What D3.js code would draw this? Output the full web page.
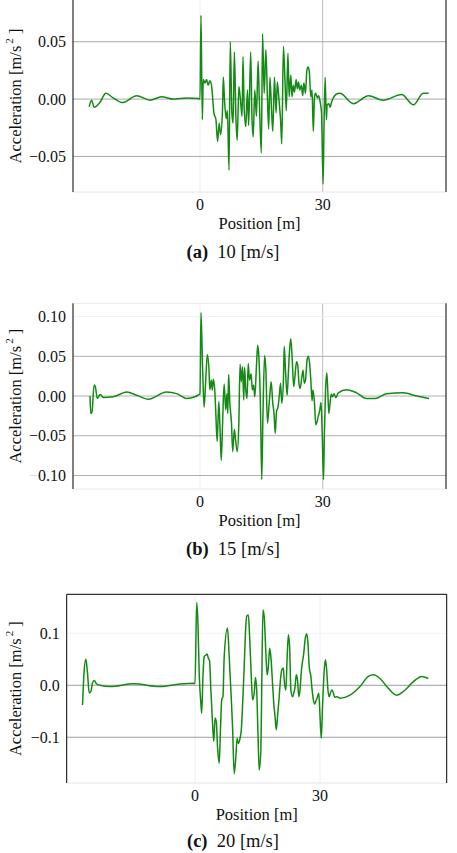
<!DOCTYPE html>
<meta charset="utf-8">
<head>
<style>
body { margin: 0; background: #fff; }
svg text { font-family: "Liberation Serif", "Times New Roman", "DejaVu Serif", serif; }
.line { fill: none; stroke: #138a13; stroke-width: 1.5px; stroke-linejoin: round; }
.tick { font-size: 16px; fill: #111; }
.lab { font-size: 16.5px; fill: #111; }
.cap { font-size: 18.5px; fill: #111; white-space: pre; }
</style>
</head>
<body>
<svg width="457" height="853"></svg>
<script src="https://cdn.jsdelivr.net/npm/d3@7"></script>
<script>
// (a) 10 m/s
var posA = [
  -27.1, -26.5, -25.9, -24.5, -23.0, -21.2, -18.9, -15.5, -12.2, -9.4,
  -6.5, -3.3, -0.4, 0, 0.24, 0.57, 0.8, 1.2, 1.6, 2.0,
  2.4, 2.85, 3.4, 3.9, 4.3, 4.7, 5.05, 5.5, 5.7, 6.0,
  6.4, 6.7, 7.1, 7.4, 7.8, 8.1, 8.4, 8.8, 9.1, 9.5,
  9.9, 10.3, 10.5, 10.8, 11.2, 11.6, 11.9, 12.4, 12.7, 13.0,
  13.4, 13.8, 14.2, 14.5, 15.0, 15.3, 15.7, 16.1, 16.5, 16.8,
  17.1, 17.5, 17.8, 18.2, 18.6, 18.9, 19.3, 19.7, 20.0, 20.4,
  20.8, 21.1, 21.5, 21.8, 22.2, 22.5, 22.8, 23.1, 23.5, 23.8,
  24.1, 24.4, 24.8, 25.1, 25.4, 25.8, 26.1, 26.4, 26.7, 27.1,
  27.4, 27.7, 28.0, 28.3, 28.7, 29.0, 29.3, 29.7, 30.1, 30.3,
  30.6, 30.9, 31.1, 31.5, 31.8, 32.2, 32.6, 33.2, 34.2, 37.5,
  41.2, 44.8, 49.3, 52.2, 54.6, 55.9
];
var accA = [
  -0.0067, -0.001, -0.007, -0.003, 0.005, 0.001, -0.003, 0.003, -0.001, 0.002,
  0, 0.001, 0.0005, 0, 0.073, -0.018, 0.017, 0.014, 0.017, 0.012,
  0.016, 0.011, -0.012, -0.018, -0.037, -0.021, -0.031, -0.010, 0.019, -0.001,
  -0.017, -0.010, -0.062, 0.050, -0.012, -0.021, 0.041, -0.018, -0.036, 0.011,
  -0.001, -0.015, 0.037, -0.007, -0.024, 0.008, -0.023, 0.041, -0.015, -0.033,
  0.008, -0.015, 0.033, 0, -0.047, 0.057, 0.005, 0.043, 0, -0.026,
  0.019, -0.010, -0.028, 0.019, -0.012, 0.015, 0, -0.018, -0.039, 0.046,
  0.014, -0.010, 0.040, 0.002, 0.021, 0.002, 0.012, 0.006, 0.017, 0.009,
  0.015, 0.008, 0.012, 0.003, 0.014, 0.005, 0.024, 0.028, 0.025, 0.002,
  0.008, -0.028, 0.002, 0.005, 0.001, 0.003, -0.001, -0.011, -0.074, -0.029,
  0.019, -0.018, -0.005, -0.004, -0.007, -0.002, 0.001, 0.004, 0.005, -0.004,
  0.003, -0.001, 0.004, -0.005, 0.005, 0.005
];

// (b) 15 m/s
var posB = [
  -26.9, -26.7, -26.4, -25.9, -25.6, -25.1, -24.4, -23.6, -21.2, -17.9,
  -15.5, -12.6, -8.2, -5.7, -3.3, -1.2, -0.2, 0, 0.24, 0.65,
  1.0, 1.4, 1.8, 2.2, 2.4, 2.8, 3.0, 3.3, 3.7, 3.9,
  4.2, 4.6, 4.9, 5.2, 5.5, 5.9, 6.3, 6.6, 6.8, 7.0,
  7.3, 7.7, 8.0, 8.4, 8.7, 9.1, 9.5, 9.8, 10.1, 10.4,
  10.7, 10.9, 11.2, 11.5, 11.8, 12.1, 12.5, 12.8, 13.1, 13.4,
  13.8, 14.1, 14.4, 14.8, 15.1, 15.4, 15.8, 16.1, 16.5, 16.8,
  17.1, 17.4, 17.8, 18.1, 18.4, 18.7, 19.1, 19.4, 19.7, 20.0,
  20.4, 20.6, 20.9, 21.3, 21.6, 21.9, 22.2, 22.6, 22.9, 23.2,
  23.6, 23.9, 24.2, 24.5, 24.9, 25.2, 25.5, 25.8, 26.2, 26.5,
  26.8, 27.1, 27.4, 27.6, 28.0, 28.3, 28.6, 28.9, 29.3, 29.6,
  29.9, 30.2, 30.4, 30.7, 31.0, 31.2, 31.5, 31.8, 32.1, 32.4,
  32.8, 33.2, 33.8, 35.9, 38.3, 40.7, 42.8, 45.6, 49.7, 53.0,
  56.0
];
var accB = [
  0, -0.022, -0.020, 0.014, 0.012, -0.003, 0.002, -0.002, -0.001, 0.005,
  0.001, -0.004, 0.005, 0.003, -0.003, -0.001, 0.002, 0.0025, 0.105, 0.033,
  -0.014, 0.020, 0.052, 0.033, 0.008, 0.020, 0.0075, 0.021, -0.001, -0.026,
  -0.057, -0.007, -0.042, -0.081, -0.038, 0.015, -0.0175, 0.003, -0.022, 0.027,
  -0.009, -0.034, -0.070, -0.042, -0.055, -0.070, -0.034, 0.040, 0.018, 0.037,
  -0.005, 0.036, 0.0075, -0.003, 0.041, 0.020, 0.028, 0.0075, 0.014, -0.001,
  0.037, 0.064, 0.049, -0.018, -0.105, -0.022, 0.051, 0.033, -0.034, -0.0175,
  0.003, 0.018, -0.009, -0.022, -0.047, -0.020, -0.013, 0.001, 0.016, -0.009,
  0.020, 0.0625, 0.0325, 0.001, 0.028, 0.0575, 0.072, 0.041, 0.012, 0.024,
  0.043, 0.039, 0.016, 0.0095, 0.024, 0.0325, 0.016, 0.020, 0.046, 0.050,
  0.041, 0.020, -0.006, 0.0075, -0.009, -0.036, -0.033, -0.026, -0.0175, -0.008,
  -0.051, -0.105, -0.051, 0.0075, 0.029, 0.012, -0.022, -0.009, 0.0025, -0.001,
  0.003, -0.002, 0.004, 0.008, 0.004, -0.003, -0.003, 0.003, 0.004, 0,
  -0.003
];

// (c) 20 m/s
var posC = [
  -27.0, -26.6, -26.2, -25.8, -25.4, -25.0, -24.6, -24.2, -23.6, -22.8,
  -20.4, -14.8, -8.4, -3.6, -0.2, 0, 0.4, 0.7, 1.0, 1.4,
  1.6, 1.9, 2.2, 2.6, 2.9, 3.2, 3.5, 3.8, 4.2, 4.5,
  4.8, 5.1, 5.4, 5.8, 6.1, 6.4, 6.7, 7.0, 7.8, 8.2,
  8.6, 9.0, 9.4, 9.8, 10.1, 10.4, 10.8, 11.1, 11.4, 11.8,
  12.1, 12.4, 12.8, 13.1, 13.5, 13.8, 14.2, 14.5, 14.8, 15.1,
  15.4, 15.8, 16.0, 16.3, 16.6, 17.0, 17.3, 17.6, 17.9, 18.2,
  18.6, 18.9, 19.2, 19.5, 19.8, 20.2, 20.5, 20.8, 21.2, 21.4,
  21.8, 22.1, 22.4, 22.7, 23.0, 23.4, 23.7, 24.0, 24.3, 24.6,
  24.9, 25.2, 25.5, 25.8, 26.1, 26.4, 26.8, 27.1, 27.4, 27.8,
  28.1, 28.4, 28.7, 29.0, 29.4, 29.7, 30.0, 30.3, 30.6, 31.0,
  31.3, 31.6, 31.9, 32.2, 32.6, 32.9, 33.2, 33.5, 34.0, 34.8,
  37.2, 39.6, 41.6, 42.8, 44.4, 46.4, 48.4, 50.0, 52.4, 54.4,
  56.0
];
var accC = [
  -0.038, 0.029, 0.050, 0.023, -0.015, -0.012, 0.005, 0.009, 0.0025, 0,
  -0.0025, 0.003, -0.0025, 0.0025, 0.004, 0.003, 0.159, 0.119, 0.023, -0.035,
  -0.054, 0.017, 0.055, 0.058, 0.060, 0.052, 0.046, -0.009, -0.073, -0.108,
  -0.063, -0.070, -0.118, -0.150, -0.086, -0.028, -0.022, 0.055, 0.110, 0.055,
  -0.009, -0.079, -0.170, -0.137, -0.102, -0.112, -0.102, -0.086, -0.041, 0.036,
  0.100, 0.133, 0.135, 0.094, 0.017, -0.028, -0.015, 0.015, -0.009, -0.092,
  -0.163, -0.124, -0.009, 0.145, 0.132, 0.062, 0.020, 0.036, 0.071, 0.055,
  0.004, -0.035, -0.060, -0.086, -0.060, -0.022, 0.010, 0.029, 0.033, 0.010,
  -0.009, 0.052, 0.097, 0.074, -0.009, -0.022, -0.015, -0.003, 0.020, 0.010,
  -0.022, -0.009, 0.026, 0.046, 0.062, 0.087, 0.099, 0.081, 0.036, 0.017,
  -0.009, -0.028, -0.036, -0.031, -0.022, -0.015, -0.060, -0.102, -0.041, 0.029,
  0.049, 0.029, -0.009, -0.022, -0.012, -0.009, -0.015, -0.023, -0.022, -0.025,
  -0.019, -0.0025, 0.017, 0.020, 0.013, -0.006, -0.019, -0.012, 0.007, 0.017,
  0.013
];

var xTicks = [0, 30];
var xTickLabels = ["0", "30"];
var yTicksA = [0.05, 0, -0.05];
var yLabelsA = ["0.05", "0.00", "\u22120.05"];
var yTicksB = [0.10, 0.05, 0, -0.05, -0.10];
var yLabelsB = ["0.10", "0.05", "0.00", "\u22120.05", "\u22120.10"];
var yTicksC = [0.1, 0, -0.1];
var yLabelsC = ["0.1", "0.0", "\u22120.1"];
var captionTags = ["(a)", "(b)", "(c)"];
var speeds = ["10 [m/s]", "15 [m/s]", "20 [m/s]"];

var svg = d3.select("svg");

var panels = [
  {pos: posA, acc: accA, yTicks: yTicksA, yLabels: yLabelsA,
   left: 73, right: 446, top: 0, bottom: 192,
   xDomain: [-31.05, 60.15], yDomain: [-0.081, 0.0864],
   hGrid: ["#a9a9a9", "#a9a9a9", "#a9a9a9"], vGrid: ["#efefef", "#bcbcbc"],
   spine: {left: "#000", right: "#000", top: null, bottom: "#e4e4e4"},
   capOff: 66},
  {pos: posB, acc: accB, yTicks: yTicksB, yLabels: yLabelsB, faintMinus: [4],
   left: 73, right: 446, top: 303.3, bottom: 489,
   xDomain: [-31.05, 60.15], yDomain: [-0.117, 0.1167],
   hGrid: ["#f0f0f0", "#b0b0b0", "#b0b0b0", "#b0b0b0", "#b0b0b0"], vGrid: ["#efefef", "#bcbcbc"],
   spine: {left: "#000", right: "#000", top: "#eaeaea", bottom: "#eaeaea"},
   capOff: 66},
  {pos: posC, acc: accC, yTicks: yTicksC, yLabels: yLabelsC,
   left: 66.7, right: 446.7, top: 594.3, bottom: 783,
   xDomain: [-30.8, 60.4], yDomain: [-0.188, 0.175],
   hGrid: ["#f2f2f2", "#9c9c9c", "#9c9c9c"], vGrid: ["#efefef", "#efefef"],
   spine: {left: "#000", right: "#000", top: "#000", bottom: "#e4e4e4"},
   capOff: 64}
];

panels.forEach(function(p, k) {
  var x = d3.scaleLinear().domain(p.xDomain).range([p.left, p.right]);
  var y = d3.scaleLinear().domain(p.yDomain).range([p.bottom, p.top]);
  var g = svg.append("g");

  // grid
  g.selectAll(".vg").data(xTicks).enter().append("line")
      .attr("x1", function(d) { return x(d); }).attr("x2", function(d) { return x(d); })
      .attr("y1", p.top).attr("y2", p.bottom)
      .attr("stroke", function(d, i) { return p.vGrid[i]; });
  g.selectAll(".hg").data(p.yTicks).enter().append("line")
      .attr("x1", p.left).attr("x2", p.right)
      .attr("y1", function(d) { return y(d); }).attr("y2", function(d) { return y(d); })
      .attr("stroke", function(d, i) { return p.hGrid[i]; });

  // series
  var line = d3.line()
      .x(function(d) { return x(d[0]); })
      .y(function(d) { return y(d[1]); })
      .curve(d3.curveMonotoneX);
  g.append("path")
      .datum(d3.zip(p.pos, p.acc))
      .attr("class", "line")
      .attr("d", line);

  // spines
  var sp = p.spine;
  if (sp.bottom) g.append("line").attr("x1", p.left).attr("x2", p.right).attr("y1", p.bottom).attr("y2", p.bottom).attr("stroke", sp.bottom);
  if (sp.top) g.append("line").attr("x1", p.left).attr("x2", p.right).attr("y1", p.top).attr("y2", p.top).attr("stroke", sp.top);
  g.append("line").attr("x1", p.left).attr("x2", p.left).attr("y1", p.top).attr("y2", p.bottom).attr("stroke", sp.left);
  g.append("line").attr("x1", p.right).attr("x2", p.right).attr("y1", p.top).attr("y2", p.bottom).attr("stroke", sp.right);

  // y tick labels
  g.selectAll(".yt").data(p.yTicks).enter().append("text")
      .attr("class", "tick")
      .attr("x", p.left - 7)
      .attr("y", function(d) { return y(d) + 5.5; })
      .attr("text-anchor", "end")
      .each(function(d, i) {
        var t = d3.select(this), s = p.yLabels[i];
        if (p.faintMinus && p.faintMinus.indexOf(i) >= 0) {
          t.append("tspan").attr("fill", "#d8d8d8").text(s.charAt(0));
          t.append("tspan").text(s.slice(1));
        } else t.text(s);
      });

  // x tick labels
  g.selectAll(".xt").data(xTicks).enter().append("text")
      .attr("class", "tick")
      .attr("x", function(d) { return x(d); })
      .attr("y", p.bottom + 18)
      .attr("text-anchor", "middle")
      .text(function(d, i) { return xTickLabels[i]; });

  // axis labels
  var cx = (p.left + p.right) / 2, cy = (p.top + p.bottom) / 2;
  g.append("text").attr("class", "lab")
      .attr("x", cx).attr("y", p.bottom + 37)
      .attr("text-anchor", "middle")
      .text("Position [m]");
  var yl = g.append("text").attr("class", "lab")
      .attr("transform", "translate(21," + cy + ") rotate(-90)")
      .attr("text-anchor", "middle");
  yl.append("tspan").text("Acceleration [m/s");
  yl.append("tspan").attr("font-size", "11px").attr("dy", -8).attr("dx", 2).text("2");
  yl.append("tspan").attr("dy", 8).text(" ]");

  // caption
  var cap = g.append("text").attr("class", "cap")
      .attr("x", 233).attr("y", p.bottom + p.capOff)
      .attr("text-anchor", "middle");
  cap.append("tspan").attr("font-weight", "bold").text(captionTags[k]);
  cap.append("tspan").text("  " + speeds[k]);
});
</script>
</body>
</html>
